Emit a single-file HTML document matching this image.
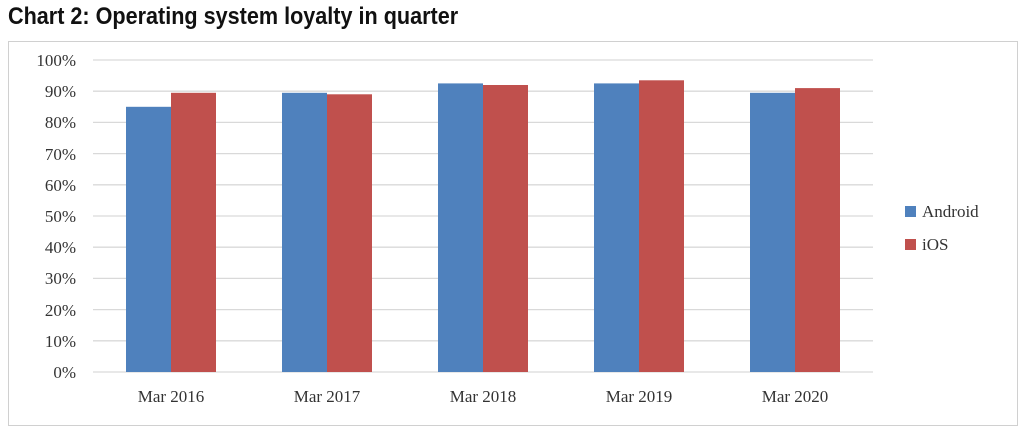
<!DOCTYPE html>
<html><head><style>
body{margin:0;background:#fff;width:1024px;height:435px;overflow:hidden;}
.t{position:absolute;left:8px;top:3px;font:bold 24px "Liberation Sans Narrow","Liberation Sans",sans-serif;color:#111;transform-origin:0 0;transform:scaleX(0.9);white-space:nowrap;}
</style></head><body>
<div class="t">Chart 2: Operating system loyalty in quarter</div>
<svg width="1024" height="435" style="position:absolute;left:0;top:0">
<rect x="8.5" y="41.5" width="1009" height="384" fill="none" stroke="#d0d0d0"/>
<g stroke="#d9d9d9" stroke-width="1.3">
<line x1="93" x2="873" y1="60" y2="60"/><line x1="93" x2="873" y1="91.2" y2="91.2"/>
<line x1="93" x2="873" y1="122.4" y2="122.4"/><line x1="93" x2="873" y1="153.6" y2="153.6"/>
<line x1="93" x2="873" y1="184.8" y2="184.8"/><line x1="93" x2="873" y1="216" y2="216"/>
<line x1="93" x2="873" y1="247.2" y2="247.2"/><line x1="93" x2="873" y1="278.4" y2="278.4"/>
<line x1="93" x2="873" y1="309.6" y2="309.6"/><line x1="93" x2="873" y1="340.8" y2="340.8"/>
<line x1="93" x2="873" y1="372" y2="372"/>
</g>
<g font-family="Liberation Serif,serif" font-size="17" fill="#333" text-anchor="end">
<text x="76" y="66">100%</text><text x="76" y="97">90%</text><text x="76" y="128">80%</text>
<text x="76" y="160">70%</text><text x="76" y="191">60%</text><text x="76" y="222">50%</text>
<text x="76" y="253">40%</text><text x="76" y="284">30%</text><text x="76" y="316">20%</text>
<text x="76" y="347">10%</text><text x="76" y="378">0%</text>
</g>
<g fill="#4f81bd">
<rect x="126" y="106.8" width="45" height="265.2"/>
<rect x="282" y="92.8" width="45" height="279.2"/>
<rect x="438" y="83.4" width="45" height="288.6"/>
<rect x="594" y="83.4" width="45" height="288.6"/>
<rect x="750" y="92.8" width="45" height="279.2"/>
</g>
<g fill="#c0504d">
<rect x="171" y="92.8" width="45" height="279.2"/>
<rect x="327" y="94.3" width="45" height="277.7"/>
<rect x="483" y="85" width="45" height="287"/>
<rect x="639" y="80.3" width="45" height="291.7"/>
<rect x="795" y="88.1" width="45" height="283.9"/>
</g>
<g font-family="Liberation Serif,serif" font-size="17" fill="#333" text-anchor="middle">
<text x="171" y="402">Mar 2016</text><text x="327" y="402">Mar 2017</text>
<text x="483" y="402">Mar 2018</text><text x="639" y="402">Mar 2019</text>
<text x="795" y="402">Mar 2020</text>
</g>
<rect x="905" y="206" width="11" height="11" fill="#4f81bd"/>
<rect x="905" y="239" width="11" height="11" fill="#c0504d"/>
<g font-family="Liberation Serif,serif" font-size="17" fill="#333">
<text x="922" y="217">Android</text><text x="922" y="250">iOS</text>
</g>
</svg>
</body></html>
